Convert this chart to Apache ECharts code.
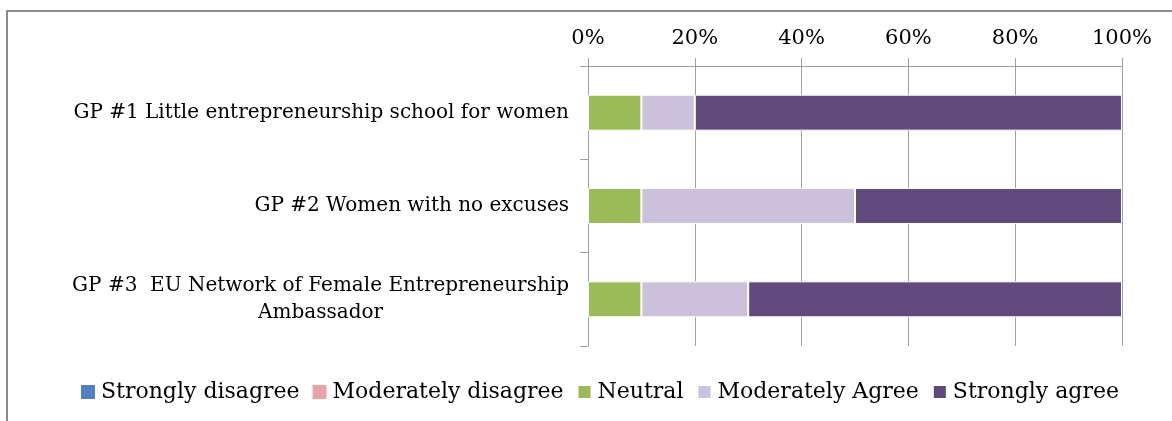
<!DOCTYPE html>
<html>
<head>
<meta charset="utf-8">
<script src="https://cdn.jsdelivr.net/npm/echarts@6/dist/echarts.min.js"></script>
<style>
  html, body { margin: 0; padding: 0; background: #fff; }
  .frame {
    position: absolute;
    left: 6px;
    top: 10px;
    width: 1166px;
    height: 411px;
    border-top: 2px solid #8c8c8c;
    border-left: 2px solid #8c8c8c;
  }
  #chart { position: absolute; left: 0; top: 0; width: 1172px; height: 421px; }
</style>
</head>
<body>
<div class="frame"></div>
<div id="chart"></div>
<script>
// categories and values (percent)
let categories = [
  "GP #1 Little entrepreneurship school for women",
  "GP #2 Women with no excuses",
  "GP #3  EU Network of Female Entrepreneurship\nAmbassador"
];
let seriesNames = ["Strongly disagree", "Moderately disagree", "Neutral", "Moderately Agree", "Strongly agree"];
let stronglyDisagree = [0, 0, 0];
let moderatelyDisagree = [0, 0, 0];
let neutral = [10, 10, 10];
let moderatelyAgree = [10, 40, 20];
let stronglyAgree = [80, 50, 70];
let xTicks = [0, 20, 40, 60, 80, 100];

let colors = ["#4f81bd", "#e6a5a4", "#9bbb59", "#ccc1da", "#604a7b"];
let values = [stronglyDisagree, moderatelyDisagree, neutral, moderatelyAgree, stronglyAgree];
let fontFamily = "DejaVu Serif";

let myChart = echarts.init(document.getElementById("chart"));

// rich labels: 2nd line of a wrapped label is centred under the first
function catLabel(v) {
  let lines = v.split("\n");
  if (lines.length === 1) return "{a|" + v + "}";
  return "{a|" + lines[0] + "}\n{c|" + lines[1] + "}";
}

myChart.setOption({
  animation: false,
  color: colors,
  grid: {
    left: 588,
    right: 50,
    top: 66,
    bottom: 75,
  },
  legend: {
    bottom: 13,
    left: 76,
    itemWidth: 14,
    itemHeight: 14,
    itemGap: 13,
    icon: "rect",
    textStyle: {
      fontFamily: fontFamily,
      fontSize: 22,
      color: "#000",
      padding: [0, 0, 0, 1],
    },
    data: seriesNames,
  },
  xAxis: {
    type: "value",
    position: "top",
    min: xTicks[0],
    max: xTicks[xTicks.length - 1],
    interval: xTicks[1] - xTicks[0],
    axisLine: { show: true, lineStyle: { color: "#a0a0a0", width: 1 } },
    axisTick: { show: true, length: 8, lineStyle: { color: "#a0a0a0" } },
    splitLine: { show: true, lineStyle: { color: "#a0a0a0", width: 1 } },
    axisLabel: {
      formatter: "{value}%",
      fontFamily: fontFamily,
      fontSize: 21,
      color: "#000",
      margin: 17,
    },
  },
  yAxis: {
    type: "category",
    inverse: true,
    data: categories,
    axisLine: { show: true, lineStyle: { color: "#a0a0a0", width: 1 } },
    axisTick: { show: true, length: 8, lineStyle: { color: "#a0a0a0" } },
    axisLabel: {
      margin: 19,
      formatter: catLabel,
      rich: {
        a: { fontFamily: fontFamily, fontSize: 20, color: "#000", lineHeight: 27 },
        c: { fontFamily: fontFamily, fontSize: 20, color: "#000", lineHeight: 27, align: "center" },
      },
    },
  },
  series: seriesNames.map((name, i) => ({
    name: name,
    type: "bar",
    stack: "total",
    barWidth: "38.5%",
    data: values[i],
    itemStyle: {
      borderColor: "#ffffff",
      borderWidth: values[i].some((v) => v > 0) ? 1 : 0,
    },
  })),
});
</script>
</body>
</html>
